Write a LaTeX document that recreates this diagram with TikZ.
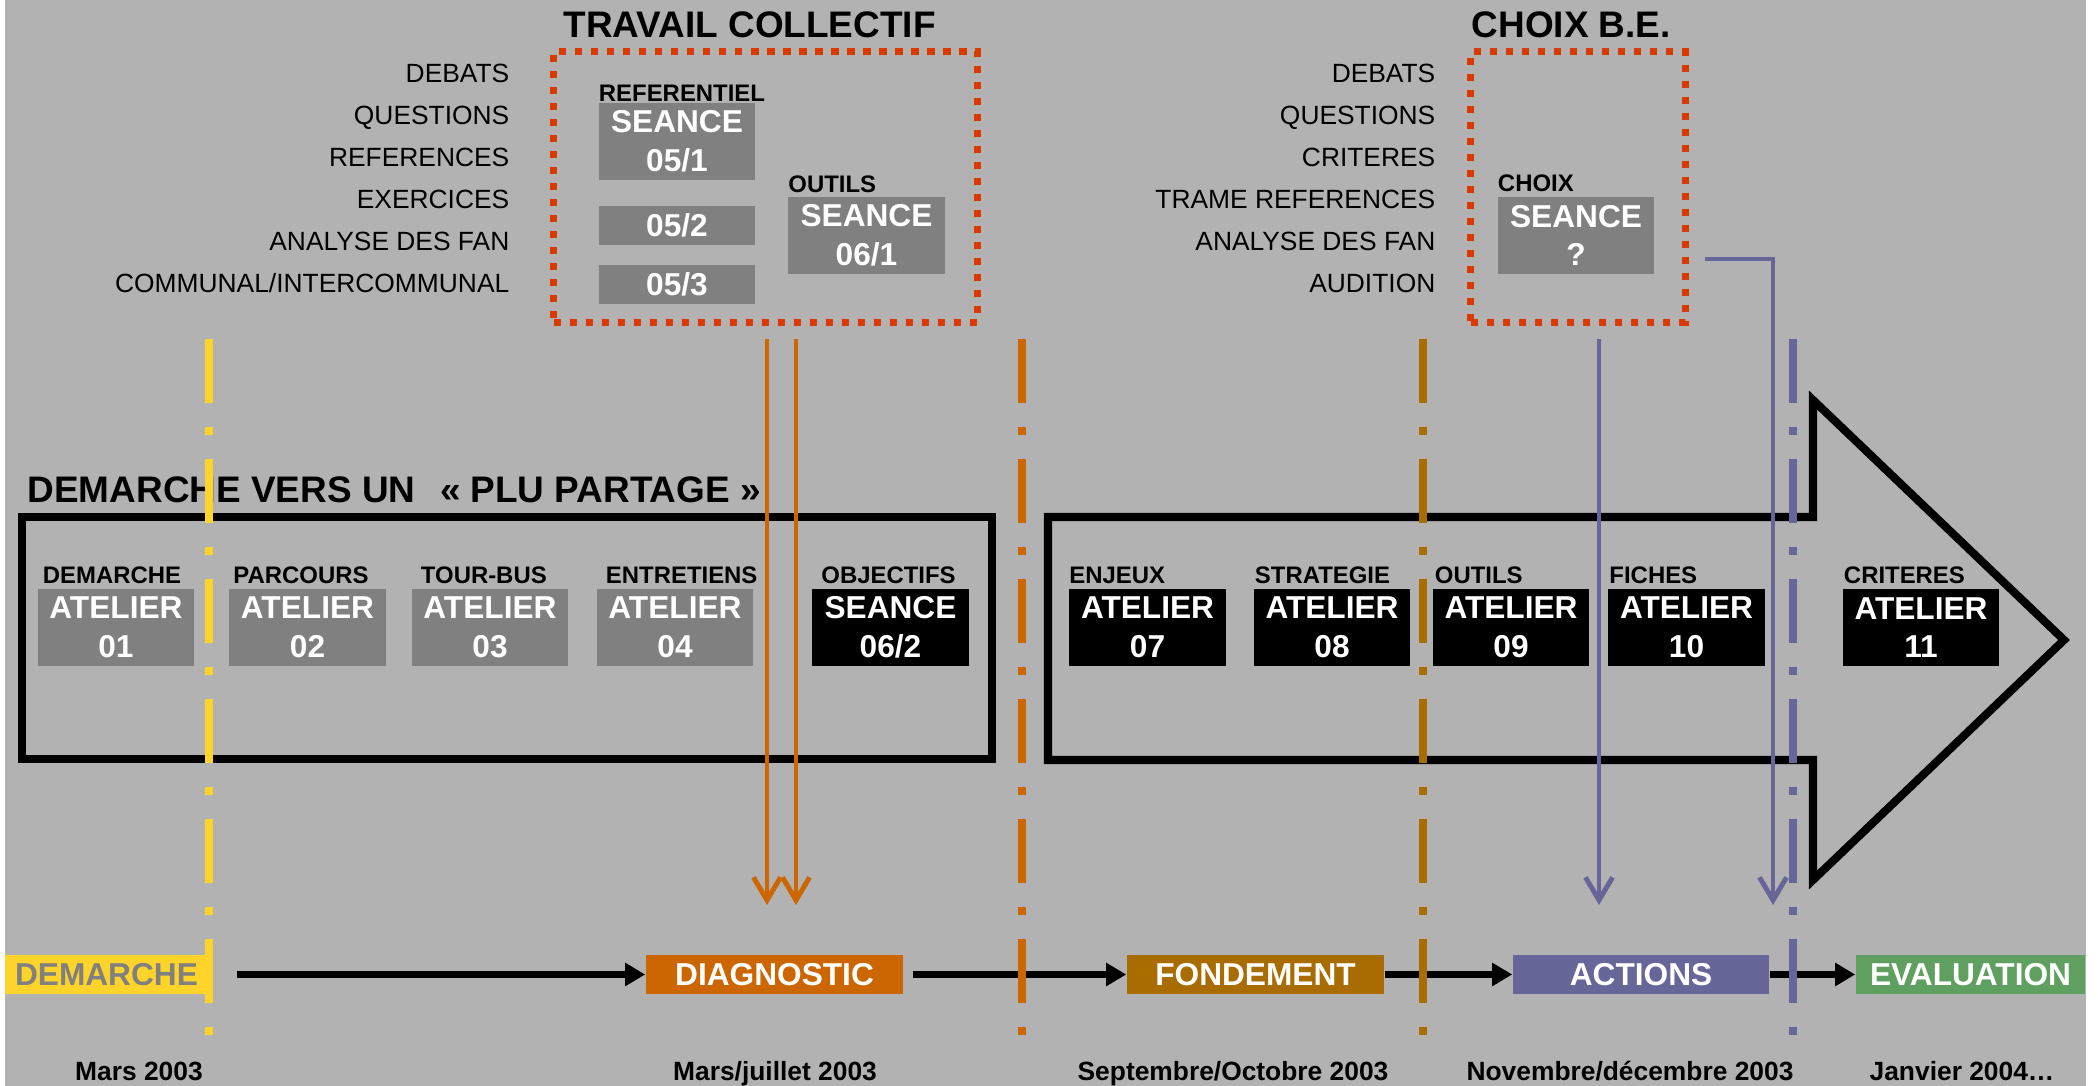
\documentclass[tikz,border=0pt]{standalone}
\usepackage{fontspec}
\setmainfont{Liberation Sans}
\usetikzlibrary{arrows.meta, positioning}

\definecolor{fond}{HTML}{B2B2B2}
\definecolor{gris}{HTML}{808080}
\definecolor{rouge}{HTML}{D83A00}
\definecolor{jaune}{HTML}{FFD42A}
\definecolor{orangeD}{HTML}{CC6600}
\definecolor{brun}{HTML}{A86C00}
\definecolor{mauve}{HTML}{666699}
\definecolor{vert}{HTML}{5F9F5F}

\tikzset{
  boite/.style={fill=gris, text=white, font=\fontsize{9}{11}\selectfont\bfseries, align=center,
    minimum width=1.56cm, minimum height=0.77cm, inner sep=0pt},
  boitenoire/.style={boite, fill=black},
  etiq/.style={font=\fontsize{6.8}{8}\selectfont\bfseries, anchor=base west, inner sep=0pt},
  liste/.style={font=\fontsize{7.5}{9}\selectfont, anchor=base east, inner sep=0pt},
  titre/.style={font=\fontsize{10.5}{12}\selectfont\bfseries, anchor=base west, inner sep=0pt},
  pointille/.style={draw=rouge, line width=2pt, dash pattern=on 2pt off 2.55pt, inner sep=0pt},
  phase/.style={text=white, font=\fontsize{9}{11}\selectfont\bfseries, minimum height=0.39cm, inner sep=0pt},
  date/.style={font=\fontsize{7.5}{9}\selectfont\bfseries, anchor=base, inner sep=0pt},
  jalon/.style={line width=2.3pt, dash pattern=on 18.2pt off 6.8pt on 2.3pt off 6.8pt},
  fleche/.style={line width=2.2pt, -{Triangle[length=5.7pt,width=6.3pt]}},
  descente/.style={line width=1.4pt, -{Straight Barb[length=6.5pt,width=7.7pt]}},
}

\begin{document}
\begin{tikzpicture}[x=0.01cm, y=-0.01cm]
    \useasboundingbox (0,0) rectangle (2098,1086);
    % Background
    \fill[white] (0,0) rectangle (2098,1086);
    \fill[fond] (5,0) rectangle (2086,1086);

    % Travail collectif
    \node[pointille, minimum width=4.23cm, minimum height=2.7cm] (collectif) at (765.5,187) {};
    \node[titre] (tcollectif) at (563,38) {TRAVAIL COLLECTIF};
    \foreach \t [count=\i from 0] in {DEBATS,QUESTIONS,REFERENCES,EXERCICES,ANALYSE DES FAN,COMMUNAL/INTERCOMMUNAL}
        \node[liste] (gauche\i) at (510,83+42*\i) {\t};
    \node[boite] (s051) at (677,141.5) {SEANCE\\05/1};
    \node[boite, minimum height=0.39cm] (s052) at (677,225.5) {05/2};
    \node[boite, minimum height=0.39cm] (s053) at (677,284.5) {05/3};
    \node[boite] (s061) at (866.5,235.5) {SEANCE\\06/1};
    \node[etiq] (lref) at ([yshift=0.01cm]s051.north west) {REFERENTIEL};
    \node[etiq] (lout) at ([yshift=0.04cm]s061.north west) {OUTILS};

    % Choix B.E.
    \node[pointille, minimum width=2.14cm, minimum height=2.7cm] (choix) at (1578,187) {};
    \node[titre] (tchoix) at (1471,38) {CHOIX B.E.};
    \foreach \t [count=\i from 0] in {DEBATS,QUESTIONS,CRITERES,TRAME REFERENCES,ANALYSE DES FAN,AUDITION}
        \node[liste] (droite\i) at (1436,83+42*\i) {\t};
    \node[boite] (sq) at (1576,235.5) {SEANCE\\?};
    \node[etiq] (lchoix) at ([yshift=0.05cm]sq.north west) {CHOIX};

    % Demarche vers un PLU partage
    \node[titre] (tdemarche) at (27,503) {DEMARCHE VERS UN\hspace{7pt}« PLU PARTAGE »};
    \draw[line width=2.3pt] (22,517) rectangle (992,759);
    \draw[line width=2.3pt] (1048,517) -- (1813,517) -- (1813,400) -- (2064,640)
        -- (1813,880) -- (1813,760) -- (1048,760) -- cycle;
    \foreach \n/\x/\lab/\dx/\st in {01/116/DEMARCHE/0.05/boite, 02/307.5/PARCOURS/0.04/boite,
        03/490/TOUR-BUS/0.09/boite, 04/675/ENTRETIENS/0.09/boite,
        07/1147.5/ENJEUX/0/boitenoire, 08/1332/STRATEGIE/0.01/boitenoire,
        09/1511/OUTILS/0.02/boitenoire, 10/1686.5/FICHES/0.01/boitenoire,
        11/1921/CRITERES/0.01/boitenoire}
    {
        \node[\st] (at\n) at (\x,627.5) {ATELIER\\\n};
        \node[etiq] (lat\n) at ([xshift=\dx cm, yshift=0.05cm]at\n.north west) {\lab};
    }
    \node[boitenoire] (s062) at (890.5,627.5) {SEANCE\\06/2};
    \node[etiq] (lobj) at ([xshift=0.09cm, yshift=0.05cm]s062.north west) {OBJECTIFS};

    % Phases
    \node[phase, fill=jaune, text=gris, minimum width=2.03cm] (demarche) at (106.5,974.5) {DEMARCHE};
    \node[phase, fill=orangeD, minimum width=2.57cm] (diagnostic) at (774.5,974.5) {DIAGNOSTIC};
    \node[phase, fill=brun, minimum width=2.57cm] (fondement) at (1255.5,974.5) {FONDEMENT};
    \node[phase, fill=mauve, minimum width=2.56cm] (actions) at (1641,974.5) {ACTIONS};
    \node[phase, fill=vert, minimum width=2.29cm] (evaluation) at (1970.5,974.5) {EVALUATION};
    \draw[fleche, shorten <=0.28cm] (demarche) -- (diagnostic);
    \draw[fleche, shorten <=0.09cm] (diagnostic) -- (fondement);
    \draw[fleche] (fondement) -- (actions);
    \draw[fleche] (actions) -- (evaluation);

    % Dates
    \node[date] (d1) at (139,1080) {Mars 2003};
    \node[date] (d2) at (775,1080) {Mars/juillet 2003};
    \node[date] (d3) at (1233,1080) {Septembre/Octobre 2003};
    \node[date] (d4) at (1630,1080) {Novembre/décembre 2003};
    \node[date] (d5) at (1962,1080) {Janvier 2004…};

    % Separations
    \foreach \x/\c in {209/jaune, 1022/orangeD, 1423/brun, 1793/mauve}
        \draw[jalon, draw=\c] (\x,339) -- (\x,1035);

    % Descentes
    \coordinate (o1h) at (767,339);  \coordinate (o1b) at (767,905);
    \coordinate (o2h) at (796,339);  \coordinate (o2b) at (796,905);
    \coordinate (v1h) at (1599,339); \coordinate (v1b) at (1599,905);
    \coordinate (v2h) at (1705,259); \coordinate (v2b) at (1773,905);
    \draw[descente, orangeD] (o1h) -- (o1b);
    \draw[descente, orangeD] (o2h) -- (o2b);
    \draw[descente, mauve] (v1h) -- (v1b);
    \draw[descente, mauve] (v2h) -| (v2b);
\end{tikzpicture}
\end{document}
